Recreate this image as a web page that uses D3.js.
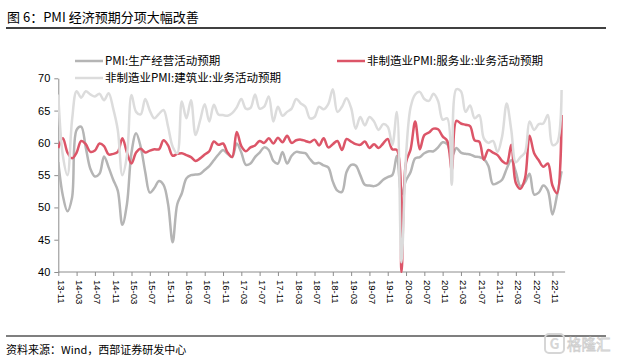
<!DOCTYPE html>
<html>

<head>
    <meta charset="utf-8" />
    <title>PMI 经济预期分项大幅改善</title>
    <script src="https://cdn.jsdelivr.net/npm/d3@7"></script>
</head>

<body>
    <style>
        html,
        body {
            margin: 0;
            padding: 0;
            background: #fff;
        }

        svg text {
            font-family: "Noto Sans CJK SC", "Liberation Sans", sans-serif;
        }

        .axis text {
            font-family: "Liberation Sans", Arial, sans-serif;
            fill: #000;
        }

        .axis path,
        .axis line {
            stroke: #8c8c8c;
        }

        .line {
            fill: none;
            stroke-width: 2.5px;
            stroke-linejoin: round;
        }
    </style>
    <div id="chart"></div>
    <script>
        // months run 2013-11 .. 2023-01
        const months = d3.timeMonth.range(new Date(2013, 10, 1), new Date(2023, 1, 1));
        const fmt = d3.timeFormat("%y-%m");
        const categories = months.map(fmt);

        const tickLabels = ["13-11", "14-03", "14-07", "14-11", "15-03", "15-07", "15-11", "16-03", "16-07",
            "16-11", "17-03", "17-07", "17-11", "18-03", "18-07", "18-11", "19-03", "19-07", "19-11",
            "20-03", "20-07", "20-11", "21-03", "21-07", "21-11", "22-03", "22-07", "22-11"];
        const yTicks = [40, 45, 50, 55, 60, 65, 70];

        // PMI:生产经营活动预期
        const production = [
            57.0, 51.8, 49.4, 51.5, 62.0, 62.5, 59.3, 56.0, 54.8, 55.2,
            57.9, 56.2, 54.3, 52.6, 47.3, 50.5, 58.5, 61.5, 59.4, 55.5,
            52.3, 53.0, 54.1, 53.5, 50.5, 44.6, 50.5, 52.2, 54.5, 55.0,
            55.1, 55.2, 55.8, 56.4, 57.3, 58.2, 58.9, 58.3, 57.8, 59.9,
            58.5, 56.6, 56.8, 57.8, 58.5, 59.3, 58.9, 57.2, 56.8, 58.6,
            56.8, 58.0, 58.6, 58.5, 58.4, 57.5, 56.8, 56.9, 56.5, 56.2,
            54.0, 52.6, 52.4, 55.5, 56.6, 56.5, 55.0, 53.5, 53.4, 53.3,
            53.6, 54.3, 54.7, 55.0, 58.0, 52.0, 54.2, 55.5, 57.6, 57.8,
            58.4, 58.7, 58.7, 59.3, 60.1, 59.8, 57.9, 59.2, 58.5, 58.3,
            58.2, 57.9, 57.8, 57.5, 56.4, 53.6, 53.8, 54.3, 56.0, 57.3,
            55.5, 53.3, 53.9, 55.2, 52.0, 52.3, 53.4, 52.6, 48.9, 51.9, 55.6
        ];
        // 非制造业PMI:服务业:业务活动预期
        const services = [
            59.2, 60.7, 58.5, 57.6, 58.5, 60.3, 59.8, 58.6, 58.8, 59.9,
            59.5, 58.2, 58.3, 58.6, 60.7, 58.5, 56.8, 58.5, 59.1, 58.5,
            58.8, 59.0, 59.0, 60.4, 59.6, 58.0, 58.3, 58.4, 58.1, 57.8,
            57.2, 57.6, 58.2, 58.7, 60.2, 59.7, 59.9, 58.5, 57.8, 61.7,
            59.5, 58.7, 59.3, 59.6, 60.3, 60.0, 60.7, 59.9, 60.8, 60.1,
            61.1, 60.0, 60.4, 60.5, 60.3, 60.1, 60.5, 59.6, 60.7, 59.3,
            59.8, 60.3, 58.9, 60.6, 60.2, 59.8, 59.7, 60.2, 59.2, 59.8,
            59.2, 59.9, 60.6, 59.0, 58.9, 40.0, 57.0, 59.0, 63.3, 59.0,
            61.2, 61.6, 62.2, 62.1, 61.0, 60.3, 55.8, 63.4, 63.0, 62.8,
            62.6, 60.4, 60.2, 57.4, 58.9, 58.5, 58.1, 57.2, 56.8, 59.7,
            53.8, 52.9, 54.5, 61.1, 58.4, 57.3, 56.3, 56.8, 53.4, 52.2, 64.3
        ];
        // 非制造业PMI:建筑业:业务活动预期
        const construction = [
            67.5, 58.0, 55.0, 63.5, 68.0, 67.0, 68.0, 67.5, 67.2, 67.6,
            66.6, 67.7, 65.3, 62.0, 55.0, 58.0, 67.4, 64.8, 64.4, 66.8,
            65.0, 63.8, 64.5, 65.1, 62.5, 59.4, 58.4, 66.4, 63.8, 66.6,
            61.2, 63.5, 66.0, 63.3, 65.9, 64.4, 64.3, 64.2, 64.6, 65.5,
            66.8, 65.3, 65.4, 67.5, 65.3, 65.6, 67.2, 63.3, 65.6, 64.2,
            64.8, 65.3, 66.8, 66.1, 65.6, 63.8, 64.0, 65.6, 65.2, 66.0,
            68.3, 64.8, 65.6, 66.9, 65.4, 62.2, 64.0, 62.7, 64.0, 63.3,
            62.0, 62.9, 62.5, 59.7, 64.8, 41.5, 58.0, 65.5, 67.5, 67.9,
            66.8, 66.5, 67.6, 66.5, 63.6, 63.8, 53.5, 68.3, 68.0, 64.8,
            65.8, 63.8, 64.3, 60.7, 60.0, 60.3, 58.6, 61.0, 66.1, 62.0,
            57.0, 57.8, 58.5, 63.3, 62.0, 62.9, 63.0, 64.3, 59.7, 60.0, 68.2
        ];

        const seriesNames = ["PMI:生产经营活动预期", "非制造业PMI:服务业:业务活动预期", "非制造业PMI:建筑业:业务活动预期"];
        const seriesColors = ["#b5b5b5", "#dc5568", "#dcdcdc"];
        const seriesData = [production, services, construction];

        const W = 619, H = 364;
        const svg = d3.select("#chart").append("svg")
            .attr("width", W)
            .attr("height", H);

        // title + rules
        svg.append("text")
            .attr("x", 7)
            .attr("y", 22)
            .attr("font-size", 13)
            .attr("fill", "#000")
            .text("图 6：PMI 经济预期分项大幅改善");
        svg.append("line")
            .attr("x1", 6).attr("x2", 606)
            .attr("y1", 28).attr("y2", 28)
            .attr("stroke", "#000").attr("stroke-width", 1.5);
        svg.append("line")
            .attr("x1", 6).attr("x2", 606)
            .attr("y1", 336).attr("y2", 336)
            .attr("stroke", "#000").attr("stroke-width", 1.2);
        svg.append("text")
            .attr("x", 6)
            .attr("y", 354)
            .attr("font-size", 11)
            .attr("fill", "#000")
            .text("资料来源：Wind，西部证券研发中心");

        // scales
        const x = d3.scalePoint()
            .domain(categories)
            .range([58.3, 561.6]);
        const y = d3.scaleLinear()
            .domain([40, 70])
            .range([272, 78.3]);

        // y axis
        const yAxis = svg.append("g")
            .attr("class", "axis")
            .attr("transform", "translate(58.3,0)")
            .call(d3.axisLeft(y).tickValues(yTicks).tickSize(4).tickSizeOuter(0).tickPadding(4));
        yAxis.selectAll("text").attr("font-size", 11);

        // x axis
        const xAxis = svg.append("g")
            .attr("class", "axis")
            .attr("transform", "translate(0,272)")
            .call(d3.axisBottom(x).tickValues(tickLabels).tickSize(4).tickSizeOuter(0));
        xAxis.select(".domain")
            .attr("d", "M" + x.range()[0] + ",0H" + (x.range()[1] + 3.5));
        xAxis.selectAll("text")
            .attr("font-size", 9.5)
            .attr("text-anchor", "start")
            .attr("transform", "translate(0,8) rotate(90)")
            .attr("x", 0)
            .attr("y", 0)
            .attr("dy", "0.1em");

        // lines
        svg.append("clipPath").attr("id", "plot-clip")
            .append("rect")
            .attr("x", 58).attr("y", 70)
            .attr("width", 510).attr("height", 203);

        const line = d3.line()
            .x(function(d, i) { return x(categories[i]); })
            .y(function(d) { return y(d); })
            .curve(d3.curveCatmullRom.alpha(0.5));

        svg.append("g")
            .attr("clip-path", "url(#plot-clip)")
            .selectAll(".line")
            .data(seriesData)
            .enter()
            .append("path")
            .attr("class", "line")
            .attr("stroke", function(d, i) { return seriesColors[i]; })
            .attr("d", line);

        // legend
        const legendPos = [[75, 61], [337, 61], [75, 78]];
        const legend = svg.selectAll(".legend")
            .data(seriesNames)
            .enter()
            .append("g")
            .attr("class", "legend")
            .attr("transform", function(d, i) { return "translate(" + legendPos[i] + ")"; });
        legend.append("line")
            .attr("x1", 0).attr("x2", 28)
            .attr("stroke", function(d, i) { return seriesColors[i]; })
            .attr("stroke-width", 2.5);
        legend.append("text")
            .attr("x", 30)
            .attr("dy", "0.36em")
            .attr("font-size", 11.5)
            .attr("fill", "#000")
            .text(function(d) { return d; });

        // watermark
        const wm = svg.append("g").attr("transform", "translate(545,334)");
        wm.append("rect")
            .attr("width", 19).attr("height", 19).attr("rx", 4)
            .attr("fill", "none").attr("stroke", "#d6d6d6").attr("stroke-width", 2);
        wm.append("text")
            .attr("x", 9.5).attr("y", 15)
            .attr("text-anchor", "middle")
            .attr("font-size", 14).attr("font-weight", "bold")
            .attr("fill", "#d6d6d6")
            .text("G");
        wm.append("text")
            .attr("x", 22).attr("y", 16)
            .attr("font-size", 14.5)
            .attr("fill", "#fff")
            .attr("stroke", "#cfcfcf")
            .attr("stroke-width", 0.8)
            .text("格隆汇");
    </script>
</body>

</html>
